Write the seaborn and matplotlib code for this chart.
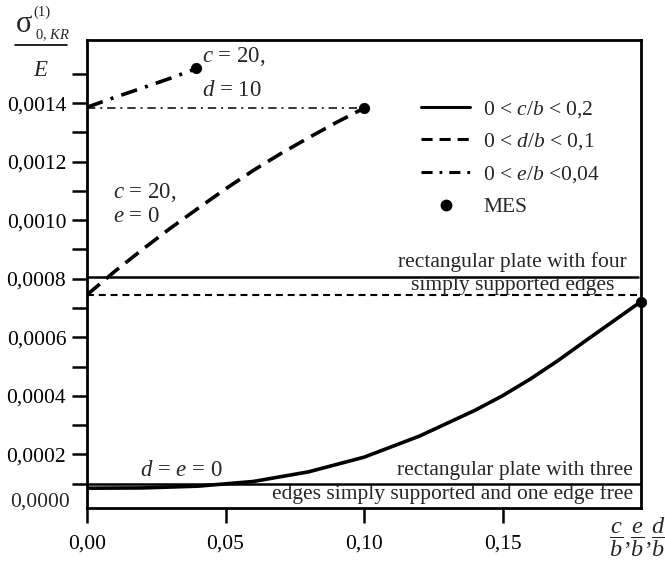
import numpy as np
import pandas as pd
import matplotlib
matplotlib.use("Agg")
import matplotlib.pyplot as plt
import seaborn as sns
from matplotlib.lines import Line2D
from matplotlib.ticker import FixedLocator, FuncFormatter

# ---------------- data ----------------
cb_x = [0.00, 0.02, 0.04, 0.06, 0.08, 0.10, 0.12, 0.14, 0.15, 0.16, 0.17, 0.18, 0.19, 0.20]
cb_y = [0.000084, 0.000085, 0.000091, 0.000107, 0.000140, 0.000190, 0.000262, 0.000350,
        0.000400, 0.000457, 0.000520, 0.000588, 0.000655, 0.000722]

db_x = [0.00, 0.01, 0.02, 0.03, 0.04, 0.05, 0.06, 0.07, 0.08, 0.09, 0.10]
db_y = [0.000745, 0.000825, 0.000900, 0.000972, 0.001040, 0.001107, 0.001170, 0.001228, 0.001282, 0.001334, 0.001383]

eb_x = [0.00, 0.01, 0.02, 0.03, 0.04]
eb_y = [0.001386, 0.001420, 0.001452, 0.001485, 0.001520]

mes_x = [0.0393, 0.10, 0.20]
mes_y = [0.001520, 0.001383, 0.000722]

four_edges_solid = 0.000807
four_edges_dashed = 0.000745
three_edges = 0.0000985
dashdot_level = 0.001383

y_major = [0.0002, 0.0004, 0.0006, 0.0008, 0.0010, 0.0012, 0.0014]
y_minor = [0.0001, 0.0003, 0.0005, 0.0007, 0.0009, 0.0011, 0.0013, 0.0015]
x_major = [0.00, 0.05, 0.10, 0.15]

# ---------------- style ----------------
sns.set_style("ticks")
plt.rcParams['font.family'] = ['Liberation Serif', 'DejaVu Serif']
plt.rcParams['mathtext.fontset'] = 'custom'
plt.rcParams['mathtext.rm'] = 'Liberation Serif'
plt.rcParams['mathtext.it'] = 'Liberation Serif:italic'
plt.rcParams['mathtext.bf'] = 'Liberation Serif:bold'
plt.rcParams['lines.scale_dashes'] = False

FS = 15.5
W, H = 665, 561
fig = plt.figure(figsize=(W / 100, H / 100), dpi=100)
L, R, T, B = 87, 641, 40, 507.7
ax = fig.add_axes([L / W, 1 - B / H, (R - L) / W, (B - T) / H])

df_c = pd.DataFrame({"x": cb_x, "y": cb_y})
df_d = pd.DataFrame({"x": db_x, "y": db_y})
df_e = pd.DataFrame({"x": eb_x, "y": eb_y})
df_m = pd.DataFrame({"x": mes_x, "y": mes_y})

sns.lineplot(data=df_c, x="x", y="y", ax=ax, color="black", lw=2.6, estimator=None, sort=False)
l_d = sns.lineplot(data=df_d, x="x", y="y", ax=ax, color="black", lw=2.6, estimator=None, sort=False).lines[-1]
l_d.set_dashes((12, 6))
l_e = sns.lineplot(data=df_e, x="x", y="y", ax=ax, color="black", lw=2.6, estimator=None, sort=False).lines[-1]
l_e.set_dashes((12, 6, 2.2, 6))

ax.axhline(four_edges_solid, xmin=0, xmax=0.995, color="black", lw=1.8)
h2 = ax.axhline(four_edges_dashed, color="black", lw=1.5)
h2.set_dashes((5, 3.5))
ax.axhline(three_edges, color="black", lw=1.8)
h4 = ax.plot([0.0, mes_x[1]], [dashdot_level, dashdot_level], color="black", lw=1.1)[0]
h4.set_dashes((6, 3.5, 1.5, 3.5))

sns.scatterplot(data=df_m, x="x", y="y", ax=ax, color="black", s=55, edgecolor="black", zorder=5, clip_on=False)

ax.set_xlim(0.0, 0.2)
ax.set_ylim(0.0000174, 0.001616)
ax.xaxis.set_major_locator(FixedLocator(x_major))
ax.yaxis.set_major_locator(FixedLocator(y_major))
ax.yaxis.set_minor_locator(FixedLocator(y_minor))
ax.xaxis.set_major_formatter(FuncFormatter(lambda v, p: f"{v:.2f}".replace(".", ",")))
ax.yaxis.set_major_formatter(FuncFormatter(lambda v, p: f"{v:.4f}".replace(".", ",")))
ax.tick_params(axis="both", which="both", direction="out", length=11, width=1.8, labelsize=FS, colors="black")
ax.tick_params(axis="x", pad=8)
ax.tick_params(axis="y", pad=4)
for s in ax.spines.values():
    s.set_visible(True)
    s.set_linewidth(2.0)
    s.set_color("black")
ax.set_xlabel("")
ax.set_ylabel("")
# bottom tick label of the y-axis (reference places it slightly above the corner, without a tick)
ax.text(-(87 - 70) / (R - L), 0.000036, "0,0000", fontsize=FS, ha="right", va="center",
        transform=ax.get_yaxis_transform(), clip_on=False)

# legend
handles = [
    Line2D([], [], color="black", lw=2.2),
    Line2D([], [], color="black", lw=2.2, dashes=(8, 5)),
    Line2D([], [], color="black", lw=2.2, dashes=(8, 5, 2, 5)),
    Line2D([], [], color="black", lw=0, marker="o", markersize=7.5),
]
labels = ["0 < $c/b$ < 0,2", "0 < $d/b$ < 0,1", "0 < $e/b$ <0,04", "MES"]
leg = ax.legend(handles, labels, loc="upper left", bbox_to_anchor=((410) / W, 1 - 88 / H),
                bbox_transform=fig.transFigure, frameon=False, fontsize=FS,
                handlelength=2.3, handletextpad=0.6, labelspacing=0.55, borderpad=0)

# annotations
ax.text(0.0415, 0.001560, "$c$ = 20,", fontsize=FS + 1, ha="left", va="center")
ax.text(0.0415, 0.001442, "$d$ = 10", fontsize=FS + 1, ha="left", va="center")
ax.text(0.0093, 0.001095, "$c$ = 20,", fontsize=FS + 1, ha="left", va="center")
ax.text(0.0093, 0.001012, "$e$ = 0", fontsize=FS + 1, ha="left", va="center")
ax.text(0.0190, 0.000145, "$d$ = $e$ = 0", fontsize=FS + 1, ha="left", va="center")
ax.text(0.1535, 0.000857, "rectangular plate with four", fontsize=FS, ha="center", va="center")
ax.text(0.1535, 0.000778, "simply supported edges", fontsize=FS, ha="center", va="center")
ax.text(0.197, 0.000145, "rectangular plate with three", fontsize=FS, ha="right", va="center")
ax.text(0.197, 0.0000655, "edges simply supported and one edge free", fontsize=FS, ha="right", va="center")

# y label (fraction): large sigma with small scripts
fig.text(24 / W, 1 - 25 / H, "σ", fontsize=22, ha="center", va="center")
fig.text(33 / W, 1 - 12 / H, "(1)", fontsize=10.5, ha="left", va="center")
fig.text(35 / W, 1 - 35 / H, "0, $KR$", fontsize=10.5, ha="left", va="center")
fig.add_artist(Line2D([15 / W, 67 / W], [1 - 45 / H, 1 - 45 / H], color="black", lw=1.2))
fig.text(41 / W, 1 - 70 / H, "$E$", fontsize=FS + 1, ha="center", va="center")

# x label
fig.text(637 / W, 1 - 537 / H, r"$\dfrac{c}{b}{,}\dfrac{e}{b}{,}\dfrac{d}{b}$", fontsize=17.5, ha="center", va="center")

fig.savefig("out.png", dpi=100)
